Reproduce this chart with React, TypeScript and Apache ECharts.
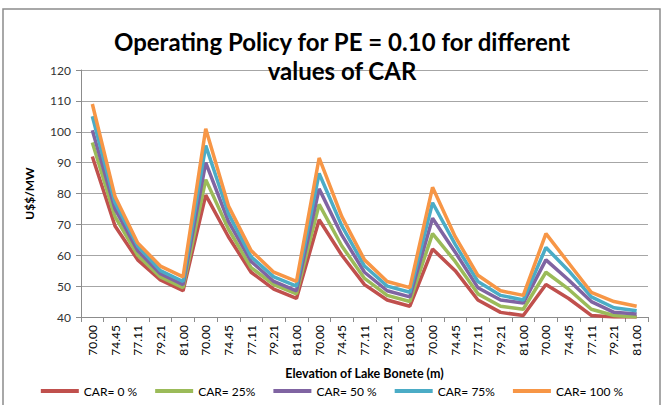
import React, { useEffect, useRef } from "react";
import * as echarts from "echarts";

const elevations = ["70.00", "74.45", "77.11", "79.21", "81.00"];
const categories: string[] = [];
for (let c = 0; c < 5; c++) categories.push(...elevations);

const seriesNames = ["CAR= 0 %", "CAR= 25%", "CAR= 50 %", "CAR= 75%", "CAR= 100 %"];
const colors = ["#C0504D", "#9BBB59", "#8064A2", "#4BACC6", "#F79646"];

const car0 = [92, 69.5, 58.5, 52, 48.5, 79.5, 66, 54.5, 49, 46, 71.5, 60, 50.5, 45.5, 43.5, 62, 55, 45.5, 41.5, 40.5, 50.5, 46, 40.5, 40, 40];
const car25 = [96.5, 72.5, 60, 53, 49.5, 84.5, 68.5, 56, 50.5, 47.5, 76.5, 63, 52.5, 47, 45, 67, 58, 47.5, 43.5, 42.5, 54.5, 49, 42.5, 40.5, 40];
const car50 = [100.5, 75, 61.5, 54, 50.5, 90, 71, 58, 51.5, 48.5, 81.5, 66.5, 54.5, 48.5, 46.5, 72, 61, 49.5, 45.5, 44.5, 58.5, 52, 45, 41.5, 41];
const car75 = [105, 77, 63, 55, 51.5, 95.5, 73.5, 59.5, 53, 50, 86.5, 69.5, 56.5, 50, 48, 77, 63.5, 51.5, 47, 45.5, 62.5, 55, 46.5, 43, 42];
const car100 = [109, 79, 64, 56.5, 53, 101, 76, 61.5, 54.5, 51.5, 91.5, 72.5, 58.5, 51.5, 49.5, 82, 66, 53.5, 48.5, 47, 67, 57.5, 48, 45, 43.5];

const seriesData = [car0, car25, car50, car75, car100];

export default function App() {
  const ref = useRef<HTMLDivElement>(null);
  useEffect(() => {
    if (!ref.current) return;
    const chart = echarts.init(ref.current, null, { renderer: "svg" });
    chart.setOption({
      animation: false,
      backgroundColor: "#ffffff",
      title: {
        text: "Operating Policy for PE = 0.10 for different\nvalues of CAR",
        left: 337,
        textAlign: "center",
        top: 22,
        textStyle: {
          fontFamily: "Lato",
          fontWeight: "bold",
          fontSize: 24,
          lineHeight: 29,
          color: "#000000",
        },
      },
      graphic: [
        {
          type: "rect",
          shape: { x: 3, y: 9, width: 657, height: 420 },
          style: { fill: "none", stroke: "#8c8c8c", lineWidth: 1.5 },
          silent: true,
          z: -1,
        },
      ],
      legend: {
        bottom: 3,
        left: "center",
        icon: "rect",
        itemWidth: 38,
        itemHeight: 4,
        itemGap: 18,
        textStyle: { fontFamily: "Lato", fontSize: 12, color: "#000" },
        data: seriesNames,
      },
      grid: { left: 81, right: 16, top: 70, bottom: 88 },
      xAxis: {
        type: "category",
        data: categories,
        boundaryGap: true,
        name: "Elevation of Lake Bonete (m)",
        nameLocation: "middle",
        nameGap: 50,
        nameTextStyle: { fontFamily: "Lato", fontWeight: "bold", fontSize: 12.5, color: "#000" },
        axisLine: { lineStyle: { color: "#8c8c8c" } },
        axisTick: { show: true, alignWithLabel: false, length: 5, lineStyle: { color: "#8c8c8c" } },
        axisLabel: {
          rotate: 90,
          interval: 0,
          fontFamily: "Lato",
          fontSize: 12,
          color: "#000",
          margin: 8,
        },
      },
      yAxis: {
        type: "value",
        min: 40,
        max: 120,
        interval: 10,
        name: "U$$/MW",
        nameLocation: "middle",
        nameGap: 46,
        nameRotate: 90,
        nameTextStyle: { fontFamily: "Lato", fontWeight: "bold", fontSize: 12, color: "#000" },
        axisLine: { show: true, lineStyle: { color: "#8c8c8c" } },
        axisTick: { show: true, length: 5, lineStyle: { color: "#8c8c8c" } },
        axisLabel: { fontFamily: "Lato", fontSize: 12, color: "#333", margin: 10 },
        splitLine: { lineStyle: { color: "#a6a6a6", width: 1 } },
      },
      series: seriesNames.map((n, i) => ({
        name: n,
        type: "line",
        data: seriesData[i],
        symbol: "none",
        color: colors[i],
        lineStyle: { width: 3.5, color: colors[i] },
        clip: true,
      })),
    });
    return () => chart.dispose();
  }, []);
  return (
    <div
      ref={ref}
      style={{ position: "fixed", left: 0, top: 0, width: 664, height: 405 }}
    />
  );
}
